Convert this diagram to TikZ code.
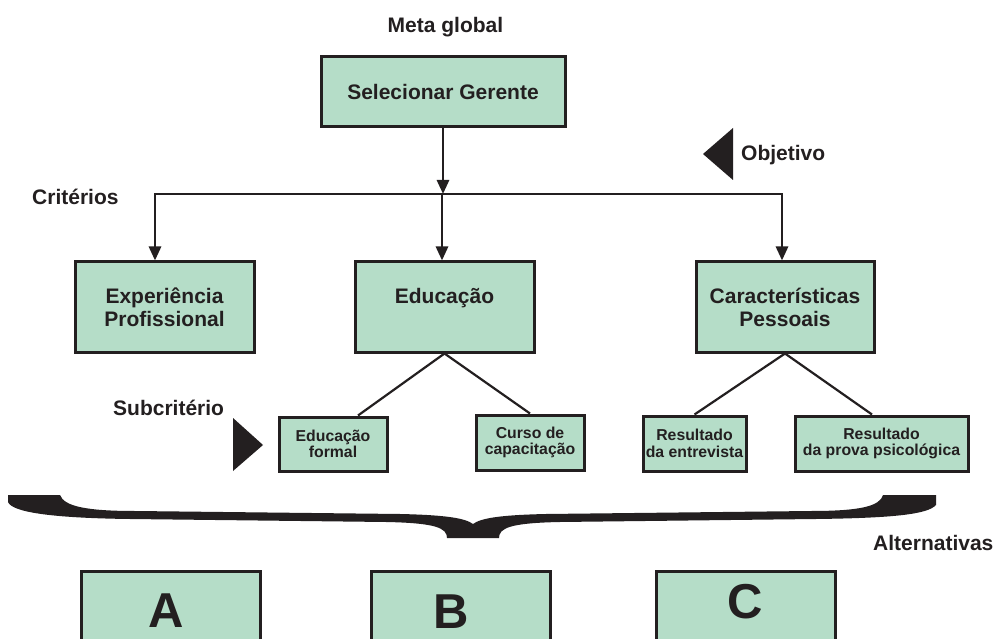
\documentclass[tikz,border=0pt]{standalone}
\usepackage{fontspec}
\setmainfont{Liberation Sans}
\usetikzlibrary{arrows.meta}
\definecolor{boxgreen}{HTML}{B5DDC8}
\definecolor{ink}{HTML}{231F20}
\begin{document}
\begin{tikzpicture}[x=1pt,y=-1pt,
  box/.style={draw=ink,fill=boxgreen,line width=3pt,inner sep=0pt,align=center,text=ink,font=\bfseries\fontsize{21}{23}\selectfont},
  subbox/.style={box,font=\bfseries\fontsize{15.8}{16.5}\selectfont},
  altbox/.style={draw=ink,fill=boxgreen,line width=3pt,inner sep=0pt,minimum width=179pt,minimum height=100pt,anchor=north},
  letter/.style={text=ink,font=\bfseries\fontsize{49}{49}\selectfont,anchor=base,inner sep=0pt},
  lbl/.style={text=ink,font=\bfseries\fontsize{21}{23}\selectfont,inner sep=0pt,anchor=base west},
  conn/.style={draw=ink,line width=2.8pt},
  arr/.style={conn,-{Triangle[length=14pt,width=12pt]}},
  subline/.style={draw=ink,line width=2.2pt},
  pointer/.style={fill=ink}
]
\useasboundingbox (0,0) rectangle (994,639);
\fill[white] (0,0) rectangle (994,639);

% top
\node[lbl,anchor=base] (meta) at (445.5,33) {Meta global};
\node[box,minimum width=244pt,minimum height=70pt] (sel) at (443,92) {Selecionar Gerente};

\node[lbl] (obj) at (741,161) {Objetivo};
\fill[pointer] (703,154) -- (733,128) -- (733,180) -- cycle;

\node[lbl] (crit) at (32,205) {Critérios};

% criteria boxes
\node[box,minimum width=179pt,minimum height=90pt] (exp) at (164.5,307) {Experiência\\Profissional};
\node[box,minimum width=179pt,minimum height=90pt] (edu) at (444.5,307) {Educação\\\phantom{X}};
\node[box,minimum width=178pt,minimum height=90pt] (car) at (785,307) {Características\\Pessoais};

% connectors
\coordinate (jl) at (155,194);
\coordinate (jm) at (442,194);
\coordinate (jr) at (782,194);
\draw[conn,line cap=rect] (jl) -- (jr);
\draw[arr] (sel.south) -- (sel.south |- jm);
\draw[arr] (jl) -- (exp.north -| jl);
\draw[arr] (jm) -- (edu.north -| jm);
\draw[arr] (jr) -- (car.north -| jr);

% subcriteria
\node[lbl] (subc) at (113,415) {Subcritério};
\fill[pointer] (233,418) -- (263,445) -- (233,471) -- cycle;

\node[subbox,minimum width=108pt,minimum height=54pt] (ef) at (333,444) {Educação\\formal};
\node[subbox,minimum width=108pt,minimum height=55pt] (cc) at (530,442.5) {Curso de\\capacitação};
\node[subbox,minimum width=103pt,minimum height=55pt] (re) at (694.5,443.5) {Resultado\\da entrevista};
\node[subbox,minimum width=173pt,minimum height=55pt] (rp) at (881.5,443.5) {Resultado\\da prova psicológica};

\draw[subline] (edu.south) -- ([xshift=25pt]ef.north);
\draw[subline] (edu.south) -- (cc.north);
\draw[subline] (car.south) -- (re.north);
\draw[subline] (car.south) -- ([xshift=-9.5pt]rp.north);

% brace
\fill[ink] (8,495) -- (60,495)
  .. controls (64,506) and (85,511) .. (135,511)
  -- (400,514)
  .. controls (445,515) and (465,518) .. (473,524)
  .. controls (481,518) and (501,515) .. (546,514)
  -- (811,511)
  .. controls (861,511) and (880,506) .. (883,495)
  -- (936,495) -- (936,505)
  .. controls (928,514) and (896,518) .. (816,519)
  -- (560,522)
  .. controls (510,523) and (499,528) .. (499,538)
  -- (447,538)
  .. controls (447,528) and (436,523) .. (386,522)
  -- (130,519)
  .. controls (50,518) and (12,512) .. (8,502) -- cycle;

\node[lbl] (alt) at (873,550) {Alternativas};

% alternatives
\node[altbox] (ba) at (170.5,570) {};
\node[altbox] (bb) at (460.5,570) {};
\node[altbox] (bc) at (746,570) {};
\node[letter] (la) at (166,627) {A};
\node[letter] (lb) at (451.5,628) {B};
\node[letter] (lc) at (745,618) {C};
\end{tikzpicture}
\end{document}
